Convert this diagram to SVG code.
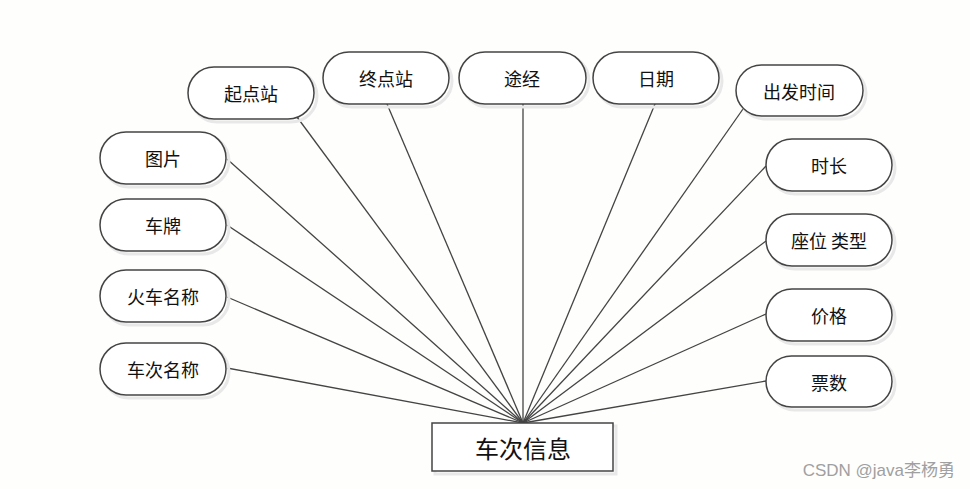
<svg xmlns="http://www.w3.org/2000/svg" width="970" height="489" viewBox="0 0 970 489">
<defs>
<style>
.n{fill:#fff;stroke:#444;stroke-width:1.5}
.sh{fill:none;stroke:#e8e8e8;stroke-width:3}
.t{font-family:"Noto Sans CJK SC","Noto Sans CJK TC",sans-serif;font-size:18px;fill:#111;text-anchor:middle;dominant-baseline:central}
.c line{stroke:#444;stroke-width:1.3}
</style>
</defs>
<rect width="970" height="489" fill="#fefefd"/>
<g class="c" id="connectors">
<line x1="297" y1="117" x2="523" y2="423"/>
<line x1="227" y1="159" x2="523" y2="423"/>
<line x1="227" y1="225" x2="523" y2="423"/>
<line x1="227" y1="297" x2="523" y2="423"/>
<line x1="227" y1="368" x2="523" y2="423"/>
<line x1="387" y1="104" x2="523" y2="423"/>
<line x1="523" y1="104" x2="523" y2="423"/>
<line x1="655" y1="104" x2="523" y2="423"/>
<line x1="743" y1="109" x2="523" y2="423"/>
<line x1="766" y1="166" x2="523" y2="423"/>
<line x1="766" y1="241" x2="523" y2="423"/>
<line x1="766" y1="314" x2="523" y2="423"/>
<line x1="766" y1="381" x2="523" y2="423"/>
</g>
<g id="n1"><rect class="sh" x="191" y="70" width="126" height="52" rx="26"/><rect class="n" x="188" y="67" width="126" height="52" rx="26"/><text class="t" x="251" y="93">起点站</text></g>
<g id="n2"><rect class="sh" x="103" y="135" width="126" height="52" rx="26"/><rect class="n" x="100" y="132" width="126" height="52" rx="26"/><text class="t" x="163" y="158">图片</text></g>
<g id="n3"><rect class="sh" x="103" y="202" width="126" height="52" rx="26"/><rect class="n" x="100" y="199" width="126" height="52" rx="26"/><text class="t" x="163" y="225">车牌</text></g>
<g id="n4"><rect class="sh" x="103" y="273" width="126" height="52" rx="26"/><rect class="n" x="100" y="270" width="126" height="52" rx="26"/><text class="t" x="163" y="296">火车名称</text></g>
<g id="n5"><rect class="sh" x="103" y="346" width="126" height="52" rx="26"/><rect class="n" x="100" y="343" width="126" height="52" rx="26"/><text class="t" x="163" y="369">车次名称</text></g>
<g id="n6"><rect class="sh" x="326" y="55" width="126" height="52" rx="26"/><rect class="n" x="323" y="52" width="126" height="52" rx="26"/><text class="t" x="386" y="78">终点站</text></g>
<g id="n7"><rect class="sh" x="462" y="55" width="127" height="52" rx="26"/><rect class="n" x="459" y="52" width="127" height="52" rx="26"/><text class="t" x="522" y="78">途经</text></g>
<g id="n8"><rect class="sh" x="596" y="55" width="126" height="52" rx="26"/><rect class="n" x="593" y="52" width="126" height="52" rx="26"/><text class="t" x="656" y="78">日期</text></g>
<g id="n9"><rect class="sh" x="739" y="68" width="127" height="51" rx="25.5"/><rect class="n" x="736" y="65" width="127" height="51" rx="25.5"/><text class="t" x="799" y="91">出发时间</text></g>
<g id="n10"><rect class="sh" x="769" y="142" width="126" height="52" rx="26"/><rect class="n" x="766" y="139" width="126" height="52" rx="26"/><text class="t" x="829" y="165">时长</text></g>
<g id="n11"><rect class="sh" x="769" y="217" width="126" height="52" rx="26"/><rect class="n" x="766" y="214" width="126" height="52" rx="26"/><text class="t" x="829" y="240">座位 类型</text></g>
<g id="n12"><rect class="sh" x="769" y="292" width="126" height="52" rx="26"/><rect class="n" x="766" y="289" width="126" height="52" rx="26"/><text class="t" x="829" y="315">价格</text></g>
<g id="n13"><rect class="sh" x="769" y="359" width="126" height="51" rx="25.5"/><rect class="n" x="766" y="356" width="126" height="51" rx="25.5"/><text class="t" x="829" y="382">票数</text></g>
<g id="center"><rect x="435" y="426" width="181" height="48" fill="none" stroke="#e8e8e8" stroke-width="3"/><rect x="432" y="423" width="181" height="48" fill="#fff" stroke="#444" stroke-width="1.5"/><text class="t" x="523" y="447" style="font-size:24px">车次信息</text></g>
<text x="955" y="476" text-anchor="end" font-family="'Liberation Sans','Noto Sans CJK SC',sans-serif" font-size="17" fill="#a0a0a0">CSDN @java李杨勇</text>
</svg>
